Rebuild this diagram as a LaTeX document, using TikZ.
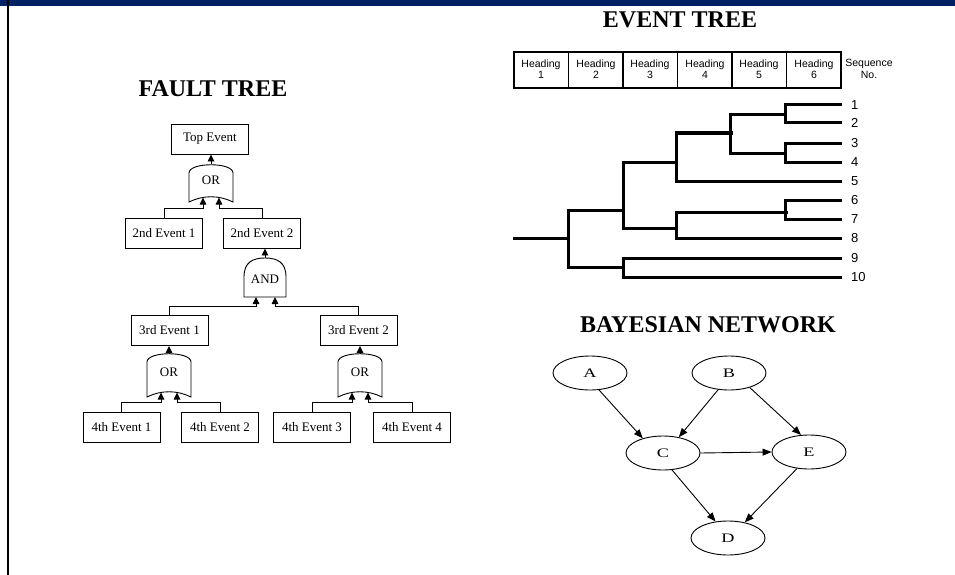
\documentclass[tikz,border=0pt]{standalone}
\usepackage{fontspec}
\setmainfont{Liberation Serif}
\newfontfamily\etsans{Liberation Sans}
\usetikzlibrary{arrows.meta,shapes.geometric}
\definecolor{bandnavy}{RGB}{0,33,99}

% OR gate: name, centre x, peak y, corner y
\newcommand{\ftorgate}[4]{%
  \path[gateline] (#2-22,#4) -- (#2-22,#3+9)
    .. controls (#2-22,#3-2) and (#2+22,#3-2) .. (#2+22,#3+9)
    -- (#2+22,#4) .. controls (#2+8,#4-7) and (#2-8,#4-7) .. cycle;
  \coordinate (#1o) at (#2,#3);
  \coordinate (#1l) at (#2-8,#4-4.5);
  \coordinate (#1r) at (#2+8,#4-4.5);
  \node[gatetext] (#1t) at (#2,{(#3+#4)/2-3}) {OR};
}
% AND gate: name, centre x, top y, bottom y
\newcommand{\ftandgate}[4]{%
  \path[gateline] (#2-21,#4) -- (#2-21,#3+19)
    .. controls (#2-21,#3+4) and (#2-12,#3) .. (#2,#3)
    .. controls (#2+12,#3) and (#2+21,#3+4) .. (#2+21,#3+19)
    -- (#2+21,#4) -- cycle;
  \coordinate (#1o) at (#2,#3);
  \coordinate (#1l) at (#2-9,#4);
  \coordinate (#1r) at (#2+10,#4);
  \node[gatetext] (#1t) at (#2,{(#3+#4)/2+2}) {AND};
}

\begin{document}
\begin{tikzpicture}[x=1pt,y=-1pt,
  title/.style={font=\fontsize{24}{24}\selectfont\bfseries,inner sep=0pt},
  evbox/.style={draw,line width=0.9pt,minimum width=77pt,minimum height=30pt,
    inner sep=0pt,font=\fontsize{13}{13}\selectfont},
  gateline/.style={draw,line width=0.9pt,fill=white},
  gatetext/.style={inner sep=0pt,font=\fontsize{13}{13}\selectfont},
  ftarrow/.style={line width=0.9pt,-{Triangle[length=7pt,width=6.5pt]}},
  etline/.style={line width=3pt,line cap=rect},
  seqlabel/.style={anchor=west,inner sep=0pt,font=\etsans\fontsize{13}{13}\selectfont},
  headtext/.style={align=center,inner sep=0pt,font=\etsans\fontsize{10.5}{11.5}\selectfont},
  bnnode/.style={draw,ellipse,line width=0.9pt,minimum width=74pt,minimum height=34pt,
    inner sep=0pt,font=\fontsize{13}{13}\selectfont},
  bnarrow/.style={line width=0.9pt,-{Triangle[length=9pt,width=7pt]}},
]
\useasboundingbox (0,0) rectangle (955,575);

% frame: header band and left rule
\fill[bandnavy] (0,0) rectangle (955,6);
\draw[line width=2pt] (8,0) -- (8,575);

% ---------------- fault tree ----------------
\node[title] (fttitle) at (213,89) {FAULT TREE};

\node[evbox] (top) at (210,139) {Top Event};
\node[evbox] (e21) at (164,233) {2nd Event 1};
\node[evbox] (e22) at (262,233) {2nd Event 2};
\node[evbox] (e31) at (169.5,330.5) {3rd Event 1};
\node[evbox] (e32) at (358.5,330.5) {3rd Event 2};
\node[evbox] (e41) at (121.5,427) {4th Event 1};
\node[evbox] (e42) at (220,427) {4th Event 2};
\node[evbox] (e43) at (312,427) {4th Event 3};
\node[evbox] (e44) at (412,427) {4th Event 4};

\ftorgate{g1}{211}{164}{202}
\ftandgate{g2}{265}{258}{297}
\ftorgate{g3}{169}{353}{397}
\ftorgate{g4}{360}{353}{397}

\draw[ftarrow] (g1o) -- (g1o |- top.south);
\draw[ftarrow] (e21.north) -- ++(0,-9) -| (g1l);
\draw[ftarrow] (e22.north) -- ++(0,-9) -| (g1r);

\draw[ftarrow] (g2o) -- (g2o |- e22.south);
\draw[ftarrow] (e31.north) -- ++(0,-9) -| (g2l);
\draw[ftarrow] (e32.north) -- ++(0,-9) -| (g2r);

\draw[ftarrow] (g3o) -- (g3o |- e31.south);
\draw[ftarrow] (e41.north) -- ++(0,-9) -| (g3l);
\draw[ftarrow] (e42.north) -- ++(0,-9) -| (g3r);

\draw[ftarrow] (g4o) -- (g4o |- e32.south);
\draw[ftarrow] (e43.north) -- ++(0,-9) -| (g4l);
\draw[ftarrow] (e44.north) -- ++(0,-9) -| (g4r);

% ---------------- event tree ----------------
\node[title] (ettitle) at (680,20) {EVENT TREE};

\draw[line width=1.3pt] (514,52) rectangle (841,88);
\foreach \xd in {568.5,623,677.5,732,786.5}
  \draw[line width=1.3pt] (\xd,52) -- (\xd,88);
\foreach \xc/\k in {541/1,596/2,650/3,705/4,759/5,814/6}
  \node[headtext] (h\k) at (\xc,69) {Heading\\\k};
\node[headtext] (seqno) at (869,69) {Sequence\\No.};

% branch structure
\draw[etline] (514,238) -- (568,238);
\draw[etline] (568,210) -- (568,267);
\draw[etline] (568,210) -- (623,210);
\draw[etline] (623,162) -- (623,228);
\draw[etline] (623,162) -- (676,162);
\draw[etline] (676,133) -- (676,181);
\draw[etline] (676,133) -- (731,133);
\draw[etline] (730,115) -- (730,153);
\draw[etline] (730,115) -- (785,115);
\draw[etline] (785,105) -- (785,123);
\draw[etline] (730,153) -- (785,153);
\draw[etline] (785,143) -- (785,162);
\draw[etline] (623,228) -- (676,228);
\draw[etline] (676,212) -- (676,238);
\draw[etline] (676,212) -- (786,212);
\draw[etline] (785,200) -- (785,219);
\draw[etline] (568,267) -- (623,267);
\draw[etline] (623,258) -- (623,277);

% end branches and sequence numbers
\foreach \k/\yy/\xs in {1/105/785,2/123/785,3/143/785,4/162/785,5/181/676,
                        6/200/785,7/219/785,8/238/676,9/258/623,10/277/623}{
  \node[seqlabel] (s\k) at (851,\yy) {\k};
  \draw[etline] (\xs,\yy) -- (840,\yy);
}

% ---------------- Bayesian network ----------------
\node[title] (bntitle) at (708,325) {BAYESIAN NETWORK};

\node[bnnode] (A) at (590,373) {\scalebox{1.4}[1]{A}};
\node[bnnode] (B) at (729,373) {\scalebox{1.4}[1]{B}};
\node[bnnode] (C) at (663,453) {\scalebox{1.4}[1]{C}};
\node[bnnode] (E) at (809,452) {\scalebox{1.4}[1]{E}};
\node[bnnode] (D) at (728,538) {\scalebox{1.4}[1]{D}};

\draw[bnarrow] (A.-62) -- (C.144);
\draw[bnarrow] (B.-123) -- (C.45);
\draw[bnarrow] (B.-35) -- (E.115);
\draw[bnarrow] (C.0) -- (E.180);
\draw[bnarrow] (C.-62) -- (D.127);
\draw[bnarrow] (E.-126) -- (D.43);
\end{tikzpicture}
\end{document}
